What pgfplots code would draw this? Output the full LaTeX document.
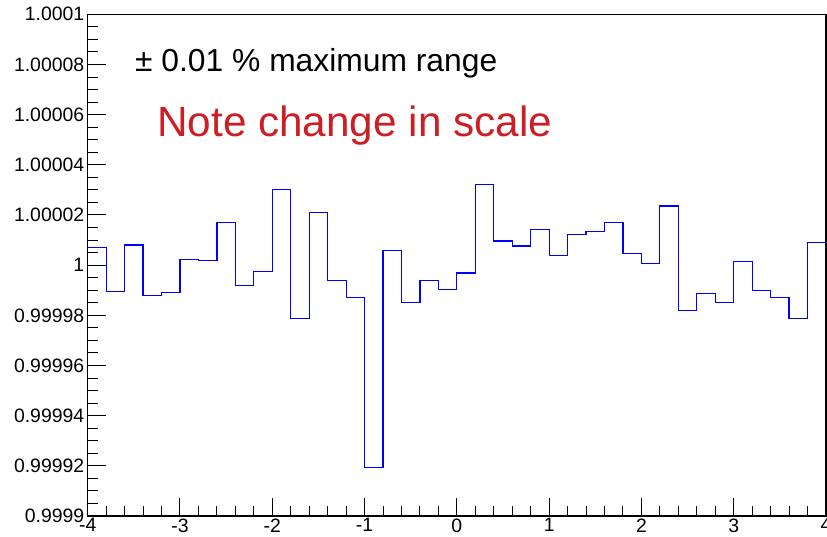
\documentclass[border=0pt]{standalone}
\usepackage{fontspec}
\setmainfont{Liberation Sans}
\usepackage{pgfplots}
\pgfplotsset{compat=1.18}
\definecolor{notered}{RGB}{205,30,38}
% y values are given as (value - 1) x 1e5, labelled with the true values
\begin{document}
\begin{tikzpicture}
\begin{axis}[
  name=ax, at={(0,0)}, anchor=south west,
  scale only axis, width=738.3pt, height=501.7pt,
  xmin=-4, xmax=4, ymin=-10, ymax=10,
  xtick={-4,-3,-2,-1,0,1,2,3,4},
  xticklabels={-4,-3,-2,-1,0,1,2,3,4},
  minor x tick num=4,
  ytick={-10,-8,-6,-4,-2,0,2,4,6,8,10},
  yticklabels={0.9999,0.99992,0.99994,0.99996,0.99998,1,1.00002,1.00004,1.00006,1.00008,1.0001},
  minor y tick num=3,
  xtick pos=bottom, ytick pos=left,
  tick align=inside,
  major tick length=18pt, minor tick length=10pt,
  axis line style={line width=1.2pt},
  tick style={black, line width=1pt},
  tick label style={font=\fontsize{19.4}{23}\selectfont},
  xticklabel style={yshift=1pt},
  /pgf/number format/assume math mode=true,
]
\addplot[const plot, blue, line width=1.2pt] coordinates {
(-4.0,0.69) (-3.8,-1.06) (-3.6,0.80) (-3.4,-1.20) (-3.2,-1.09)
(-3.0,0.23) (-2.8,0.20) (-2.6,1.70) (-2.4,-0.80) (-2.2,-0.25)
(-2.0,3.03) (-1.8,-2.13) (-1.6,2.09) (-1.4,-0.62) (-1.2,-1.29)
(-1.0,-8.08) (-0.8,0.57) (-0.6,-1.50) (-0.4,-0.62) (-0.2,-0.97)
(0.0,-0.31) (0.2,3.20) (0.4,0.96) (0.6,0.76) (0.8,1.41)
(1.0,0.37) (1.2,1.22) (1.4,1.33) (1.6,1.70) (1.8,0.45)
(2.0,0.07) (2.2,2.36) (2.4,-1.82) (2.6,-1.14) (2.8,-1.48)
(3.0,0.13) (3.2,-1.00) (3.4,-1.30) (3.6,-2.13) (3.8,0.90)
(4.0,0.90)};
\node[anchor=base west, inner sep=0pt, font=\fontsize{31.8}{36}\selectfont] at (axis cs:-3.488,7.735) {± 0.01 \% maximum range};
\node[anchor=base west, inner sep=0pt, text=notered, font=\fontsize{42.3}{48}\selectfont] at (axis cs:-3.249,5.14) {Note change in scale};
\end{axis}
\pgfresetboundingbox
\path[use as bounding box] ([xshift=-87.7pt,yshift=-20pt]ax.south west) rectangle ([xshift=1pt,yshift=14.3pt]ax.north east);
\end{tikzpicture}
\end{document}
